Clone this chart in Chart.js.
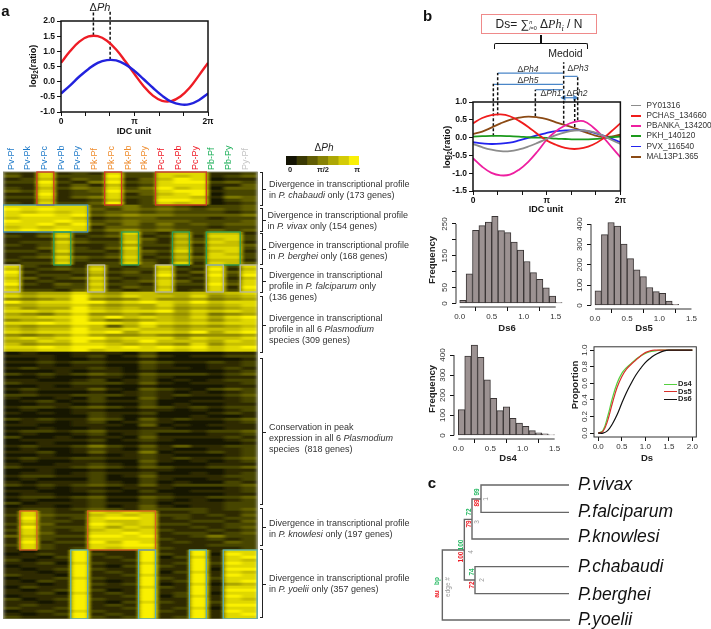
<!DOCTYPE html>
<html lang="en">
<head>
<meta charset="UTF-8">
<title>Plasmodium transcriptional divergence</title>
<script src="https://cdn.jsdelivr.net/npm/chart.js@4"></script>
<style>
    body { margin: 0; background: #fff; font-family: "Liberation Sans", Arial, sans-serif; color: #222; }
    #page { position: relative; width: 711px; height: 629px; overflow: hidden; filter: blur(0.3px); }
    canvas { position: absolute; display: block; }
    .txt { position: absolute; white-space: nowrap; line-height: 1; }
    .rule { position: absolute; box-sizing: border-box; }
    sub { font-size: 70%; line-height: 0; }
    #heat { filter: url(#smear); }
</style>
</head>
<body>
<svg width="0" height="0" style="position:absolute"><filter id="smear" x="0" y="0" width="100%" height="100%"><feGaussianBlur stdDeviation="2 0.5" edgeMode="duplicate"/></filter></svg>
<div id="page"></div>
<script>
// panel a, two example profiles, sampled every pi/8
const phaseSteps = [0, 0.393, 0.785, 1.178, 1.571, 1.963, 2.356, 2.749, 3.142, 3.534, 3.927, 4.32, 4.712, 5.105, 5.498, 5.89, 6.283];
const redProfile = [0.62, 1.01, 1.32, 1.49, 1.5, 1.35, 1.06, 0.67, 0.25, -0.15, -0.46, -0.63, -0.64, -0.49, -0.2, 0.2, 0.62];
const blueProfile = [-0.39, -0.12, 0.17, 0.42, 0.62, 0.71, 0.7, 0.57, 0.35, 0.08, -0.2, -0.46, -0.66, -0.75, -0.74, -0.61, -0.39];
const phaseTicks = [0, 1.047, 2.094, 3.142, 4.189, 5.236, 6.283];
const phaseTickLabels = ['0', '', '', 'π', '', '', '2π'];
const ratioTicksA = [-1, -0.5, 0, 0.5, 1, 1.5, 2];
const ratioTicksB = [-1.5, -1, -0.5, 0, 0.5, 1];

// panel a, heatmap: 15 species pairs, one string per row band, digit 0-9 = dPh 0..pi
const pairLabels = ['Pv-Pf', 'Pv-Pk', 'Pv-Pc', 'Pv-Pb', 'Pv-Py', 'Pk-Pf', 'Pk-Pc', 'Pk-Pb', 'Pk-Py', 'Pc-Pf', 'Pc-Pb', 'Pc-Py', 'Pb-Pf', 'Pb-Py', 'Py-Pf'];
const rowsChabaudi = ['218121822888112', '318222922878123', '127132813798011', '229214923899232', '118131712888113', '217243824978033', '328123933899122', '119122813789022', '228134822887143', '117112712998023', '218223912878012'];
const rowsVivax = ['888882342321223', '989883243432323', '878782332322212', '899893454433334', '788871233222122', '988982343332223', '889793242423233', '787881332322122', '898982453432323'];
const rowsBerghei = ['112721282162771', '213812371271882', '111621173162782', '122832282173871', '212711262261773', '113721381172882', '221822173282781', '112611272161872', '123832381273882', '211721172162771', '122812283181873'];
const rowsFalciparum = ['821217213812828', '712328122721917', '921127231813838', '812216122921929', '731238212712817', '812117123831828', '921328221822938', '711227132711819', '822138212812828'];
const rowsAllSix = ['756686577667678', '867797687768567', '545695457556456', '978899789879788', '667786566867678', '756697676756567', '887898788968787', '654685565657456', '778897978768689', '566796456767578', '889899879878788', '656687368656567', '767797787767778', '878898968879689', '545686556545556', '787899788868778', '668797679777687', '756688767658577', '889899898989789', '778897888878788'];
const rowsConserved = [
    '010011102000011', '111012013101122', '001001001000001', '112122113211212', '001011002100112', '121112102110121',
    '000101101000012', '212123213222123', '001001102100011', '110012012010122', '211122213101112', '001011001000011',
    '121113103210232', '010001012101012', '221122212121123', '100102003100012', '012012112001112', '001101002010011',
    '122123213212122', '010011001101012', '101012112000121', '000002101001001', '212113203121123', '011012012100012',
    '110011103010111', '001001001100011', '122123112221223', '010012012000112', '200101103111121', '011112012100012',
    '001001001000001', '121124213131122', '010012102100112', '112013114011212', '001001012100012', '121122112121123',
    '010011003101012', '100112102000111', '211123213211223', '001001001100011', '011012112001012', '122112013111122',
    '010002002100112', '101112102010021', '212123213122223', '001011011100012', '110012102001112', '011001001100011',
    '122123113211223', '010012002101012', '201112112011122', '011012013101122', '122123213222123'
];
const rowsKnowlesi = ['182118787112112', '283227878221213', '192128998121122', '182218778112213', '273119878221122', '192228687112123', '282127878211212', '183118898122123', '372229989112422', '182118888211212', '191229798121132', '282118899111222', '182128788211112'];
const rowsYoelii = ['101191119119188', '012192119219098', '110291219028189', '201191129119187', '112082118129298', '011191029219188', '101292119119099', '110191219028187', '211091128119198', '011282119219288', '102191019129189', '110192129018067', '021191118219188', '101292019119199', '112081219129088', '011191129028198', '201292119119187', '110191028219288', '121191219119199', '211291129128088', '012182119219198', '101291219119189', '211192129129188'];
const colourSteps = [0, 1.5, 3, 4.5, 6, 7.5, 9];

// panel b, medoid cluster example
const profilePY = [-0.18, -0.27, -0.34, -0.38, -0.38, -0.33, -0.25, -0.15, -0.04, 0.07, 0.15, 0.2, 0.2, 0.16, 0.07, -0.06, -0.18];
const profilePCHAS = [0.4, 0.55, 0.63, 0.65, 0.6, 0.47, 0.3, 0.1, -0.08, -0.2, -0.29, -0.32, -0.29, -0.2, -0.05, 0.17, 0.4];
const profilePBANKA = [-0.58, -0.82, -0.99, -1.06, -1.04, -0.9, -0.68, -0.39, -0.06, 0.18, 0.34, 0.44, 0.46, 0.3, 0.05, -0.25, -0.55];
const profilePKH = [0.03, 0.04, 0.05, 0.05, 0.04, 0.03, 0.01, 0, -0.01, -0.03, -0.04, -0.05, -0.05, -0.04, -0.02, 0.01, 0.03];
const profilePVX = [-0.13, -0.16, -0.18, -0.17, -0.14, -0.08, -0.01, 0.07, 0.13, 0.18, 0.2, 0.21, 0.2, 0.15, 0.07, -0.03, -0.13];
const profileMAL = [0.1, 0.17, 0.28, 0.4, 0.5, 0.56, 0.59, 0.57, 0.52, 0.43, 0.35, 0.27, 0.17, 0.08, 0.02, 0.03, 0.08];
const seriesNames = ['PY01316', 'PCHAS_134660', 'PBANKA_134200', 'PKH_140120', 'PVX_116540', 'MAL13P1.365'];

// phase markers: x position, lower end, upper end
const markerX = [0.867, 1.052, 2.658, 3.866, 4.336, 4.463];
const markerLow = [0.04, 0.63, 0.6, 0.39, 0.3, 0.49];
const markerHigh = [1.514, 1.813, 1.346, 2.12, 1.093, 1.72];
// dPh spans: start, end, level
const spanStart = [1.052, 0.88, 2.67, 3.91, 3.87];
const spanEnd = [3.84, 3.84, 3.84, 4.46, 4.35];
const spanLevel = [1.813, 1.495, 1.346, 1.72, 1.12];

// panel b histograms
const binCentres = [0.05, 0.15, 0.25, 0.35, 0.45, 0.55, 0.65, 0.75, 0.85, 0.95, 1.05, 1.15, 1.25, 1.35, 1.45, 1.55];
const freqDs6 = [10, 93, 230, 245, 256, 274, 229, 223, 193, 168, 132, 97, 76, 49, 23, 3];
const freqDs5 = [72, 348, 408, 390, 302, 230, 175, 142, 88, 68, 60, 22, 5];
const freqDs4 = [128, 395, 450, 389, 277, 184, 123, 142, 85, 61, 45, 24, 13, 8, 3];
const dsTicks = [0, 0.5, 1, 1.5];
const freqTicksDs6 = [0, 50, 100, 150, 200, 250];
const freqTicksDs5 = [0, 100, 200, 300, 400];

// cumulative curves
const cumX = [0, 0.1, 0.2, 0.3, 0.4, 0.5, 0.6, 0.7, 0.8, 0.9, 1, 1.1, 1.2, 1.3, 1.4, 1.5, 1.6, 1.7, 1.8, 1.9, 2];
const cumDs4 = [0, 0.03, 0.2, 0.42, 0.6, 0.72, 0.79, 0.84, 0.89, 0.93, 0.96, 0.98, 0.99, 1, 1, 1, 1, 1, 1, 1, 1];
const cumDs5 = [0, 0.02, 0.15, 0.36, 0.55, 0.68, 0.77, 0.83, 0.88, 0.93, 0.97, 0.99, 1, 1, 1, 1, 1, 1, 1, 1, 1];
const cumDs6 = [0, 0, 0.03, 0.11, 0.22, 0.36, 0.49, 0.6, 0.7, 0.78, 0.85, 0.9, 0.94, 0.97, 0.99, 1, 1, 1, 1, 1, 1];
const cumTicksX = [0, 0.5, 1, 1.5, 2];
const cumTicksY = [0, 0.2, 0.4, 0.6, 0.8, 1];

// panel c, cladogram paths in tree units
const treeX = [[450, 67, 67, 133], [156, 133, 133, 165], [447, 165, 165, 447], [447, 156, 156, 183], [447, 183, 183, 447]];
const treeY = [[465, 465, 255, 255], [163, 163, 345, 345], [305, 305, 386, 386], [222, 222, 102, 102], [60, 60, 142, 142]];

const page = document.getElementById('page');
const FONT = '"Liberation Sans", Arial, sans-serif';

function heatColor(d) {
    const t = d / 9;
    return `rgb(${Math.round(20 + 230 * t)},${Math.round(20 + 220 * t)},${Math.round(4 + 2 * t)})`;
}

function text(html, x, y, css, rot) {
    const el = document.createElement('div');
    el.className = 'txt';
    el.innerHTML = html;
    el.style.left = x + 'px';
    el.style.top = y + 'px';
    el.style.cssText += ';' + (css || '');
    el.style.transform = `translate(-50%,-50%)` + (rot ? ` rotate(${rot}deg)` : '');
    page.appendChild(el);
    return el;
}

function leftText(html, x, y, css) {
    const el = text(html, x, y, css);
    el.style.transform = 'translate(0,-50%)';
    return el;
}

function rule(x, y, w, h, css) {
    const el = document.createElement('div');
    el.className = 'rule';
    el.style.cssText = `left:${x}px;top:${y}px;width:${w}px;height:${h}px;` + css;
    page.appendChild(el);
    return el;
}

// canvas placed so that the plot area lands on the given rectangle
function plotCanvas(area, m, id) {
    const c = document.createElement('canvas');
    if (id) c.id = id;
    c.width = area.w + m.l + m.r;
    c.height = area.h + m.t + m.b;
    c.style.left = (area.x - m.l) + 'px';
    c.style.top = (area.y - m.t) + 'px';
    page.appendChild(c);
    return c;
}

function baseOptions(m) {
    return {
        responsive: false,
        animation: false,
        devicePixelRatio: 1,
        events: [],
        layout: { autoPadding: false, padding: { top: m.t, right: m.r, left: 0, bottom: 0 } },
        plugins: { legend: { display: false }, tooltip: { enabled: false } },
        elements: { point: { radius: 0 } }
    };
}

const setTicks = list => s => { s.ticks = list.map(v => ({ value: v })); };

function axis(list, size, opts) {
    const side = size.side;
    return Object.assign({
        type: 'linear',
        afterBuildTicks: setTicks(list),
        afterFit: s => { s[side] = size.px; },
        grid: { drawOnChartArea: false, drawTicks: true, tickLength: 4, color: '#111' },
        border: { display: false },
    }, opts);
}

const frameBox = {
    id: 'frameBox',
    afterDatasetsDraw(chart, args, o) {
        if (!o.color) return;
        const a = chart.chartArea, g = chart.ctx;
        g.save();
        g.strokeStyle = o.color;
        g.lineWidth = o.width;
        g.strokeRect(a.left, a.top, a.right - a.left, a.bottom - a.top);
        g.restore();
    }
};

// R style axis lines, running only between first and last tick
const rAxisLines = {
    id: 'rAxisLines',
    afterDatasetsDraw(chart, args, o) {
        if (!o.color) return;
        const { x, y } = chart.scales, a = chart.chartArea, g = chart.ctx;
        g.save();
        g.strokeStyle = o.color;
        g.lineWidth = 1;
        g.beginPath();
        g.moveTo(x.getPixelForValue(x.ticks[0].value), a.bottom);
        g.lineTo(x.getPixelForValue(x.ticks[x.ticks.length - 1].value), a.bottom);
        g.moveTo(a.left, y.getPixelForValue(y.ticks[0].value));
        g.lineTo(a.left, y.getPixelForValue(y.ticks[y.ticks.length - 1].value));
        g.stroke();
        g.restore();
    }
};

// outlines around the divergent columns of each gene block
const highlightBoxes = {
    id: 'highlightBoxes',
    afterDatasetsDraw(chart, args, o) {
        if (!o.groups) return;
        const { x, y } = chart.scales, g = chart.ctx;
        g.save();
        g.lineWidth = 1.3;
        o.groups.forEach(b => {
            g.strokeStyle = b.color;
            b.spans.forEach(s => {
                const top = y.getPixelForValue(b.from - 0.5), bot = y.getPixelForValue(b.to - 0.5);
                g.strokeRect(x.getPixelForValue(s[0]), top, x.getPixelForValue(s[1]) - x.getPixelForValue(s[0]), bot - top);
            });
        });
        g.restore();
    }
};
Chart.register(frameBox, rAxisLines, highlightBoxes);

const points = (xs, ys) => xs.map((v, i) => ({ x: v, y: ys[i] }));
const curve = (xs, ys, color, width) => ({ data: points(xs, ys), borderColor: color, borderWidth: width, tension: 0.4, showLine: true, pointRadius: 0 });
const dashed = (x, lo, hi) => ({ data: [{ x: x, y: lo }, { x: x, y: hi }], borderColor: '#111', borderWidth: 1.5, borderDash: [3, 2], showLine: true, pointRadius: 0, clip: false });

// ---- panel a, line plot
{
    const m = { l: 30, t: 21, r: 8, b: 20 };
    const area = { x: 61, y: 21, w: 147, h: 91 };
    const o = baseOptions(m);
    const tickFont = { family: FONT, size: 8.5, weight: 'bold' };
    o.scales = {
        x: axis(phaseTicks, { side: 'height', px: m.b }, { min: 0, max: 6.283, ticks: { font: tickFont, color: '#111', padding: 1, autoSkip: false, maxRotation: 0, callback: (v, i) => phaseTickLabels[i] } }),
        y: axis(ratioTicksA, { side: 'width', px: m.l }, { min: -1, max: 2, ticks: { font: tickFont, color: '#111', padding: 2, callback: v => v.toFixed(1) } })
    };
    o.plugins.frameBox = { color: '#111', width: 1.5 };
    new Chart(plotCanvas(area, m), {
        type: 'scatter',
        data: { datasets: [
            curve(phaseSteps, blueProfile, '#2222dd', 2.4),
            curve(phaseSteps, redProfile, '#ee1c25', 2.4),
            dashed(1.385, 1.52, 2.36),
            dashed(2.1, 0.72, 2.36)
        ] },
        options: o
    });
    text('a', 5.5, 10, 'font-weight:bold;font-size:15px;color:#111');
    text('Δ<i>Ph</i>', 100, 6.5, 'font-size:11px');
    text('log<sub>2</sub>(ratio)', 33, 66, 'font-weight:bold;font-size:9px;color:#111', -90);
    text('IDC unit', 134, 131, 'font-weight:bold;font-size:9px;color:#111');
}

// ---- panel a, heatmap as stacked one-unit bars per row
{
    const heatRows = [].concat(rowsChabaudi, rowsVivax, rowsBerghei, rowsFalciparum, rowsAllSix, rowsConserved, rowsKnowlesi, rowsYoelii);
    const heatArea = { x: 3, y: 172, w: 255, h: 447 };
    const hm = { l: 0, t: 0, r: 0, b: 0 };
    const ho = baseOptions(hm);
    ho.indexAxis = 'y';
    ho.scales = {
        x: { type: 'linear', stacked: true, display: false, min: 0, max: 15 },
        y: { type: 'category', stacked: true, display: false }
    };
    new Chart(plotCanvas(heatArea, hm, 'heat'), {
        type: 'bar',
        data: {
            labels: heatRows.map((r, i) => i),
            datasets: pairLabels.map((p, col) => ({
                label: p,
                data: heatRows.map(() => 1),
                backgroundColor: heatRows.map(r => heatColor(+r[col])),
                borderWidth: 0,
                barPercentage: 1,
                categoryPercentage: 1
            }))
        },
        options: ho
    });

    // second layer with pair labels and block outlines, kept out of the smear filter
    const m = { l: 0, t: 27, r: 0, b: 0 };
    const o = baseOptions(m);
    o.layout.padding.top = 0;
    const pairColor = i => i < 5 ? '#1f7ac8' : i < 9 ? '#ee8a2a' : i < 12 ? '#ee1520' : i < 14 ? '#17ad55' : '#c4c4c4';
    o.scales = {
        x: {
            type: 'linear', position: 'top', min: 0, max: 15.5,
            afterBuildTicks: setTicks(pairLabels.map((p, i) => i * 1.02 + 1.15)),
            afterFit: s => { s.height = m.t; },
            grid: { display: false, drawTicks: false },
            border: { display: false },
            ticks: { autoSkip: false, minRotation: 90, maxRotation: 90, padding: 2, font: { family: FONT, size: 9 }, color: c => pairColor(c.index), callback: (v, i) => pairLabels[i] }
        },
        x2: { type: 'linear', display: false, min: 0, max: 15, axis: 'x' },
        y: { type: 'linear', display: false, reverse: true, min: -0.5, max: heatRows.length - 0.5 }
    };
    o.plugins.frameBox = { color: '#8a8a70', width: 1 };
    o.plugins.highlightBoxes = { groups: [
        { from: 0, to: 11, color: '#d13a22', spans: [[2, 3], [6, 7], [9, 12]] },
        { from: 11, to: 20, color: '#3f8fc0', spans: [[0, 5]] },
        { from: 20, to: 31, color: '#2a9d55', spans: [[3, 4], [7, 8], [10, 11], [12, 14]] },
        { from: 31, to: 40, color: '#b5b5a5', spans: [[0, 1], [5, 6], [9, 10], [12, 13], [14, 15]] },
        { from: 113, to: 126, color: '#d8601f', spans: [[1, 2], [5, 9]] },
        { from: 126, to: 149, color: '#5aaeb5', spans: [[4, 5], [8, 9], [11, 12], [13, 15]] }
    ].map(g => Object.assign(g, { spans: g.spans.map(s => [s[0] * 15.5 / 15, s[1] * 15.5 / 15]) })) };
    new Chart(plotCanvas(heatArea, m), { type: 'scatter', data: { datasets: [] }, options: o });

    // colour key
    const km = { l: 0, t: 0, r: 0, b: 0 };
    const ko = baseOptions(km);
    ko.indexAxis = 'y';
    ko.scales = {
        x: { type: 'linear', stacked: true, display: false, min: 0, max: colourSteps.length },
        y: { type: 'category', stacked: true, display: false }
    };
    new Chart(plotCanvas({ x: 286, y: 156, w: 73, h: 9 }, km), {
        type: 'bar',
        data: { labels: ['key'], datasets: colourSteps.map(s => ({ data: [1], backgroundColor: heatColor(s), borderWidth: 0, barPercentage: 1, categoryPercentage: 1 })) },
        options: ko
    });
    text('Δ<i>Ph</i>', 324, 148, 'font-size:10px');
    text('0', 290, 169.5, 'font-weight:bold;font-size:7.5px');
    text('π/2', 323, 169.5, 'font-weight:bold;font-size:7.5px');
    text('π', 357, 169.5, 'font-weight:bold;font-size:7.5px');

    // brackets and notes beside the blocks
    const brackets = [[172, 206], [208, 232], [233, 265], [268, 293], [296, 353], [358, 505], [508, 546], [549, 618]];
    brackets.forEach(b => {
        rule(259.5, b[0], 3.5, b[1] - b[0], 'border:1.1px solid #222;border-left:none');
        rule(263, (b[0] + b[1]) / 2, 2.5, 1, 'background:#222');
    });
    const notes = [
        [269, 184, 'Divergence in transcriptional profile'], [269, 195, 'in <i>P. chabaudi</i> only (173 genes)'],
        [267.5, 215, 'Divergence in transcriptional profile'], [267.5, 226, 'in <i>P. vivax</i> only (154 genes)'],
        [268.5, 244.5, 'Divergence in transcriptional profile'], [268.5, 255.5, 'in <i>P. berghei</i> only (168 genes)'],
        [269, 275, 'Divergence in transcriptional'], [269, 285.5, 'profile in <i>P. falciparum</i> only'], [269, 296.5, '(136 genes)'],
        [269, 318, 'Divergence in transcriptional'], [269, 329, 'profile in all 6 <i>Plasmodium</i>'], [269, 340, 'species (309 genes)'],
        [269, 427, 'Conservation in peak'], [269, 438, 'expression in all 6 <i>Plasmodium</i>'], [269, 449, 'species&nbsp; (818 genes)'],
        [269, 522.5, 'Divergence in transcriptional profile'], [269, 533.5, 'in <i>P. knowlesi</i> only (197 genes)'],
        [269, 578, 'Divergence in transcriptional profile'], [269, 589, 'in <i>P. yoelii</i> only (357 genes)']
    ];
    notes.forEach(n => leftText(n[2], n[0], n[1], 'font-size:9px;color:#333'));
}

// ---- panel b, formula and cluster profiles
{
    text('b', 427.5, 15, 'font-weight:bold;font-size:15px;color:#111');
    rule(480.5, 14, 116.5, 19.5, 'border:1.3px solid #ef8a8a');
    text('Ds= <span style="font-size:12px">∑</span><span style="display:inline-block;vertical-align:middle;font-size:5.5px;line-height:6px;text-align:left"><i>n</i><br><i>i</i>=0</span> Δ<i style="font-family:\'Liberation Serif\'">Ph<sub>i</sub></i> / N', 539, 24, 'font-size:12px;color:#222');
    rule(493.5, 42.5, 94.5, 6, 'border:1.5px solid #111;border-bottom:none;border-radius:2px 2px 0 0');
    rule(540, 35, 1.5, 8, 'background:#111');
    text('Medoid', 565.5, 52.5, 'font-size:10.5px;color:#222');

    const m = { l: 34, t: 52, r: 6, b: 20 };
    const area = { x: 473, y: 102, w: 148, h: 89 };
    const o = baseOptions(m);
    const tickFont = { family: FONT, size: 8.5, weight: 'bold' };
    o.scales = {
        x: axis(phaseTicks, { side: 'height', px: m.b }, { min: 0, max: 6.283, ticks: { font: tickFont, color: '#111', padding: 1, autoSkip: false, maxRotation: 0, callback: (v, i) => phaseTickLabels[i] } }),
        y: axis(ratioTicksB, { side: 'width', px: m.l }, { min: -1.5, max: 1, ticks: { font: tickFont, color: '#111', padding: 2, callback: v => v.toFixed(1) } })
    };
    o.plugins.frameBox = { color: '#111', width: 1.5 };
    const seriesColors = ['#8c8c8c', '#f01c1c', '#ee1fa0', '#1c9a1c', '#2323ee', '#8b4a14'];
    const profiles = [profilePY, profilePCHAS, profilePBANKA, profilePKH, profilePVX, profileMAL];
    const datasets = profiles.map((p, i) => Object.assign(curve(phaseSteps, p, seriesColors[i], 1.8), { label: seriesNames[i] }));
    markerX.forEach((x, i) => datasets.push(dashed(x, markerLow[i], markerHigh[i])));
    datasets.push({ data: [{ x: 3.866, y: 2.17 }], pointStyle: 'triangle', pointRadius: 3, backgroundColor: '#111', borderColor: '#111', clip: false });
    spanStart.forEach((s, i) => datasets.push({
        data: [{ x: s, y: spanLevel[i] }, { x: spanEnd[i], y: spanLevel[i] }],
        showLine: true, borderColor: '#4a86c8', backgroundColor: '#4a86c8', borderWidth: 1.2,
        pointStyle: 'triangle', pointRadius: 2.2, pointRotation: [-90, 90], clip: false
    }));
    new Chart(plotCanvas(area, m), { type: 'scatter', data: { datasets: datasets }, options: o });

    const spanNotes = [['4', 528, 69], ['5', 528, 80], ['1', 551, 93], ['3', 578, 68], ['2', 577, 93]];
    spanNotes.forEach(n => text('Δ<i>Ph' + n[0] + '</i>', n[1], n[2], 'font-size:8.5px;color:#333'));
    text('log<sub>2</sub>(ratio)', 447, 147, 'font-weight:bold;font-size:9px;color:#111', -90);
    text('IDC unit', 546, 209, 'font-weight:bold;font-size:9px;color:#111');

    const legendY = [105.5, 115.8, 126, 136.2, 146.6, 157];
    seriesNames.forEach((s, i) => {
        rule(630.5, legendY[i] - 0.8, 10, 1.7, 'background:' + seriesColors[i]);
        leftText(s, 646.5, legendY[i], 'font-size:8.2px;color:#333');
    });
}

// ---- panel b, histograms
function histogram(area, freq, xRange, yRange, yTicks, shown) {
    const m = { l: 26, t: 2, r: 2, b: 20 };
    const o = baseOptions(m);
    const tickFont = { family: FONT, size: 8 };
    o.scales = {
        x: axis(dsTicks, { side: 'height', px: m.b }, { offset: false, min: xRange[0], max: xRange[1], ticks: { font: tickFont, color: '#333', padding: 1, maxRotation: 0, autoSkip: false, callback: v => v.toFixed(1) } }),
        y: axis(yTicks, { side: 'width', px: m.l }, { min: yRange[0], max: yRange[1], ticks: { font: tickFont, color: '#333', padding: 1, minRotation: 90, maxRotation: 90, crossAlign: 'center', autoSkip: false, callback: v => shown.includes(v) ? String(v) : '' } })
    };
    o.plugins.rAxisLines = { color: '#333' };
    new Chart(plotCanvas(area, m), {
        type: 'bar',
        data: { datasets: [{ data: points(binCentres.slice(0, freq.length), freq), backgroundColor: '#9c9292', borderColor: '#3a3535', borderWidth: 1, borderSkipped: false, barPercentage: 1, categoryPercentage: 1 }] },
        options: o
    });
}
histogram({ x: 456, y: 210, w: 109, h: 97 }, freqDs6, [-0.058, 1.645], [-11, 282], freqTicksDs6, [0, 50, 150, 250]);
histogram({ x: 591, y: 215, w: 108, h: 94 }, freqDs5, [-0.062, 1.617], [-17.5, 426], freqTicksDs5, freqTicksDs5);
histogram({ x: 454, y: 338, w: 109, h: 101 }, freqDs4, [-0.067, 1.63], [-17.8, 465.7], freqTicksDs5, freqTicksDs5);
const axisTitle = 'font-weight:bold;font-size:9.5px;color:#222';
text('Ds6', 507, 328, axisTitle);
text('Ds5', 644, 328, axisTitle);
text('Ds4', 508, 458, axisTitle);
text('Ds', 647, 458, axisTitle);
text('Frequency', 432, 260, axisTitle, -90);
text('Frequency', 432, 389, axisTitle, -90);
text('Proportion', 574.5, 385, axisTitle, -90);

// ---- panel b, cumulative curves
{
    const m = { l: 20, t: 2, r: 2, b: 20 };
    const o = baseOptions(m);
    const tickFont = { family: FONT, size: 8 };
    o.scales = {
        x: axis(cumTicksX, { side: 'height', px: m.b }, { min: -0.09, max: 2.084, ticks: { font: tickFont, color: '#333', padding: 1, maxRotation: 0, autoSkip: false, callback: v => v.toFixed(1) } }),
        y: axis(cumTicksY, { side: 'width', px: m.l }, { min: -0.047, max: 1.04, ticks: { font: tickFont, color: '#333', padding: 0, minRotation: 90, maxRotation: 90, crossAlign: 'center', autoSkip: false, callback: v => v.toFixed(1) } })
    };
    o.plugins.frameBox = { color: '#333', width: 1 };
    new Chart(plotCanvas({ x: 594, y: 344, w: 103, h: 93 }, m), {
        type: 'scatter',
        data: { datasets: [curve(cumX, cumDs6, '#111', 1.2), curve(cumX, cumDs5, '#d8302a', 1.2), curve(cumX, cumDs4, '#55d040', 1.2)] },
        options: o
    });
    [['Ds4', 384, '#55d040'], ['Ds5', 391.7, '#d8302a'], ['Ds6', 399, '#111']].forEach(k => {
        rule(663.5, k[1] - 0.5, 13, 1.2, 'background:' + k[2]);
        leftText(k[0], 678, k[1], 'font-weight:bold;font-size:7.5px;color:#222');
    });
}

// ---- panel c, cladogram
{
    const m = { l: 0, t: 0, r: 0, b: 0 };
    const o = baseOptions(m);
    o.scales = {
        x: { type: 'linear', display: false, min: 0, max: 873 },
        y: { type: 'linear', display: false, min: 0, max: 492, reverse: true }
    };
    new Chart(plotCanvas({ x: 420, y: 465, w: 291, h: 164 }, m), {
        type: 'scatter',
        data: { datasets: treeX.map((xs, i) => ({ data: points(xs, treeY[i]), showLine: true, borderColor: '#666', borderWidth: 1.4, pointRadius: 0 })) },
        options: o
    });
    text('c', 432, 482, 'font-weight:bold;font-size:15px;color:#111');
    [['P.vivax', 485], ['P.falciparum', 511.5], ['P.knowlesi', 537], ['P.chabaudi', 566.5], ['P.berghei', 595], ['P.yoelii', 620]].forEach(s => {
        leftText(s[0], 578, s[1], 'font-style:italic;font-size:17.5px;color:#111');
    });
    const G = '#22b860', R = '#ee1c25', K = '#999';
    const edgeLabels = [
        ['99', 170, 82, G], ['89', 172, 115, R], ['1', 198, 103, K], ['72', 146, 142, G], ['79', 148, 178, R], ['3', 172, 170, K],
        ['100', 122, 240, G], ['100', 122, 275, R], ['4', 152, 260, K], ['74', 155, 322, G], ['72', 155, 360, R], ['2', 186, 345, K],
        ['bp', 52, 348, G], ['au', 52, 388, R], ['edge #', 83, 365, K]
    ];
    edgeLabels.forEach(e => text(e[0], 420 + e[1] / 3, 465 + e[2] / 3, `font-size:6.5px;font-weight:${e[3] === K ? 'normal' : 'bold'};color:${e[3]}`, -90));
}
</script>
</body>
</html>
